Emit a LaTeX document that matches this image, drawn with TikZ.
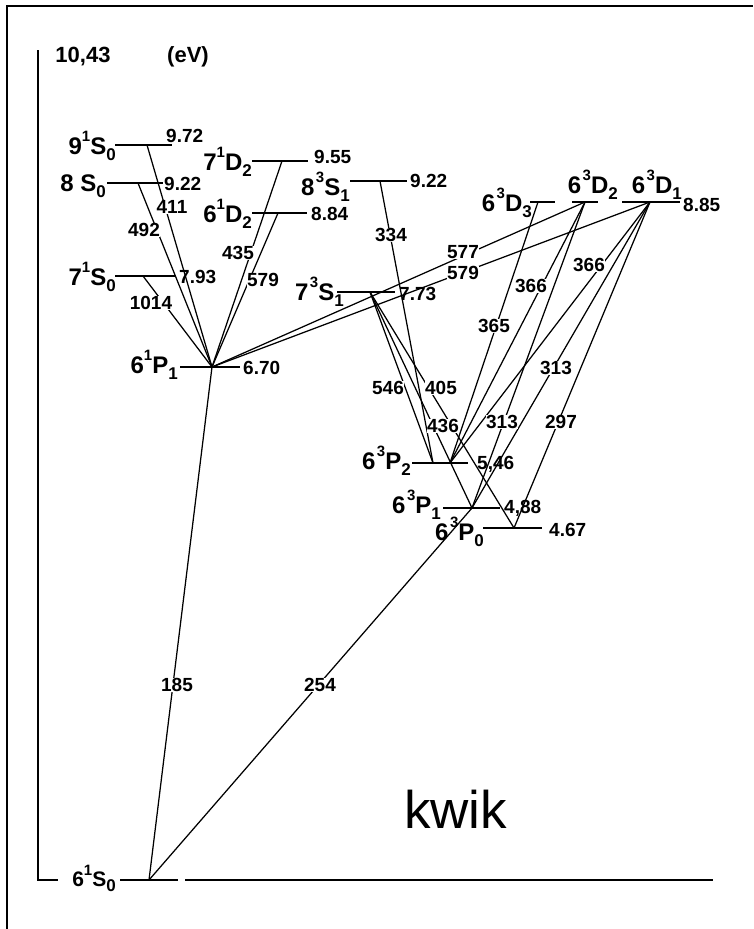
\documentclass[tikz,border=0pt]{standalone}
\usepackage{fontspec}
\setmainfont{Liberation Sans}
\newcommand\lvname[4]{#1\raisebox{0.52em}{\fontsize{15}{15}\selectfont #2}#3\raisebox{-0.28em}{\fontsize{17}{17}\selectfont #4}}
\begin{document}
\begin{tikzpicture}[x=1pt,y=-1pt,
  lev/.style={line width=2.6pt},
  trans/.style={line width=1.25pt},
  frame/.style={line width=1.8pt},
  num/.style={font=\fontsize{19}{19}\selectfont\bfseries, fill=white, inner sep=0.6pt},
  val/.style={font=\fontsize{19}{19}\selectfont\bfseries, inner sep=0pt, anchor=west},
  lname/.style={font=\fontsize{24}{24}\selectfont\bfseries, inner sep=0pt, anchor=base east}]
\useasboundingbox (0,0) rectangle (753,929);

% frame and axis
\coordinate (fbl) at (7,929); \coordinate (ftl) at (7,6); \coordinate (ftr) at (753,6);
\draw[frame] (fbl) -- (ftl) -- (ftr);
\coordinate (axtop) at (38,50); \coordinate (axbot) at (38,880); \coordinate (axend) at (58,880);
\draw[frame] (axtop) -- (axbot) -- (axend);
\node[font=\fontsize{22}{22}\selectfont\bfseries, inner sep=0pt] (top) at (83,57) {10,43};
\node[font=\fontsize{22}{22}\selectfont\bfseries, inner sep=0pt] (unit) at (188,57) {(eV)};

% transition end points
\coordinate (V1) at (212,367);
\coordinate (a411) at (147,145);
\coordinate (a492) at (138,183);
\coordinate (a1014) at (143,276);
\coordinate (a435) at (282,161);
\coordinate (a579) at (278,213);
\coordinate (G0) at (149,880);
\coordinate (V3) at (370,292);
\coordinate (T8v) at (380,181);
\coordinate (D3v) at (538,202);
\coordinate (D2v) at (585,202);
\coordinate (D1v) at (650,202);
\coordinate (P2a) at (433,463);
\coordinate (P2b) at (450,463);
\coordinate (P1v) at (472,508);
\coordinate (P0v) at (514,528);

% transitions
\draw[trans] (a411) -- (V1);
\draw[trans] (a492) -- (V1);
\draw[trans] (a1014) -- (V1);
\draw[trans] (a435) -- (V1);
\draw[trans] (a579) -- (V1);
\draw[trans] (D2v) -- (V1);
\draw[trans] (D1v) -- (V1);
\draw[trans] (G0) -- (V1);
\draw[trans] (G0) -- (P1v);
\draw[trans] (T8v) -- (P2a);
\draw[trans] (V3) -- (P2a);
\draw[trans] (V3) -- (P1v);
\draw[trans] (V3) -- (P0v);
\draw[trans] (D3v) -- (P2b);
\draw[trans] (D2v) -- (P2b);
\draw[trans] (D1v) -- (P2b);
\draw[trans] (D2v) -- (P1v);
\draw[trans] (D1v) -- (P1v);
\draw[trans] (D1v) -- (P0v);

% levels
\coordinate (S9L) at (115,145); \coordinate (S9R) at (172,145);
\coordinate (S8L) at (107,183); \coordinate (S8R) at (163,183);
\coordinate (S7L) at (115,276); \coordinate (S7R) at (175,276);
\coordinate (PsL) at (180,367); \coordinate (PsR) at (240,367);
\coordinate (D7L) at (252,161); \coordinate (D7R) at (308,161);
\coordinate (D6L) at (252,213); \coordinate (D6R) at (307,213);
\coordinate (T8L) at (350,181); \coordinate (T8R) at (407,181);
\coordinate (T7L) at (337,292); \coordinate (T7R) at (395,292);
\coordinate (D3L) at (530,202); \coordinate (D3R) at (555,202);
\coordinate (D2L) at (572,202); \coordinate (D2R) at (598,202);
\coordinate (D1L) at (622,202); \coordinate (D1R) at (680,202);
\coordinate (P2L) at (412,463); \coordinate (P2R) at (468,463);
\coordinate (P1L) at (443,508); \coordinate (P1R) at (500,508);
\coordinate (P0L) at (483,528); \coordinate (P0R) at (542,528);
\coordinate (GL) at (120,880); \coordinate (GR) at (178,880);
\coordinate (BL) at (185,880); \coordinate (BR) at (713,880);
\foreach \a/\b in {S9L/S9R,S8L/S8R,S7L/S7R,PsL/PsR,D7L/D7R,D6L/D6R,T8L/T8R,T7L/T7R,D3L/D3R,D2L/D2R,D1L/D1R,P2L/P2R,P1L/P1R,P0L/P0R,GL/GR}
  \draw[lev] (\a) -- (\b);
\draw[frame] (BL) -- (BR);

% level names
\node[lname] (n9s) at (116,154) {\lvname{9}{1}{S}{0}};
\node[lname] (n8s) at (106,191) {\lvname{8\ }{}{S}{0}};
\node[lname] (n7s) at (116,285) {\lvname{7}{1}{S}{0}};
\node[lname] (n6p) at (178,373) {\lvname{6}{1}{P}{1}};
\node[lname] (n7d) at (252,170) {\lvname{7}{1}{D}{2}};
\node[lname] (n6d) at (252,222) {\lvname{6}{1}{D}{2}};
\node[lname] (n8t) at (350,195) {\lvname{8\kern1.5pt}{3}{S}{1}};
\node[lname] (n7t) at (344,300) {\lvname{7\kern1.5pt}{3}{S}{1}};
\node[lname] (nd3) at (532,211) {\lvname{6\kern1.5pt}{3}{D}{3}};
\node[lname] (nd2) at (618,193) {\lvname{6\kern1.5pt}{3}{D}{2}};
\node[lname] (nd1) at (682,193) {\lvname{6\kern1.5pt}{3}{D}{1}};
\node[lname] (np2) at (411,469) {\lvname{6\kern1.5pt}{3}{P}{2}};
\node[lname] (np1) at (441,513) {\lvname{6\kern1.5pt}{3}{P}{1}};
\node[lname] (np0) at (484,540) {\lvname{6\kern1.5pt}{3}{P}{0}};
\node[lname, font=\fontsize{21}{21}\selectfont\bfseries] (ngs) at (116,886) {\lvname{6}{1}{S}{0}};

% energies
\node[val] (e972) at (166,136) {9.72};
\node[val] (e922a) at (164,184) {9.22};
\node[val] (e793) at (179,277) {7.93};
\node[val] (e670) at (243,368) {6.70};
\node[val] (e955) at (314,157) {9.55};
\node[val] (e884) at (311,214) {8.84};
\node[val] (e922b) at (410,181) {9.22};
\node[val] (e773) at (399,294) {7.73};
\node[val] (e885) at (683,205) {8.85};
\node[val] (e546) at (477,464) {5,46};
\node[val] (e488) at (504,508) {4,88};
\node[val] (e467) at (549,530) {4.67};

% wavelengths
\node[num] (w411) at (172,207) {411};
\node[num] (w492) at (144,230) {492};
\node[num] (w1014) at (151,303) {1014};
\node[num] (w435) at (238,253) {435};
\node[num] (w579a) at (263,280) {579};
\node[num] (w334) at (391,235) {334};
\node[num] (w577) at (463,252) {577};
\node[num] (w579b) at (463,273) {579};
\node[num] (w546) at (388,388) {546};
\node[num] (w405) at (441,388) {405};
\node[num] (w436) at (443,426) {436};
\node[num] (w365) at (494,326) {365};
\node[num] (w366a) at (531,286) {366};
\node[num] (w366b) at (589,265) {366};
\node[num] (w313a) at (502,422) {313};
\node[num] (w313b) at (556,368) {313};
\node[num] (w297) at (561,422) {297};
\node[num] (w185) at (177,685) {185};
\node[num] (w254) at (320,685) {254};

\node[font=\fontsize{53}{53}\selectfont, inner sep=0pt, anchor=base west] (kwik) at (404,828) {kwik};
\end{tikzpicture}
\end{document}
